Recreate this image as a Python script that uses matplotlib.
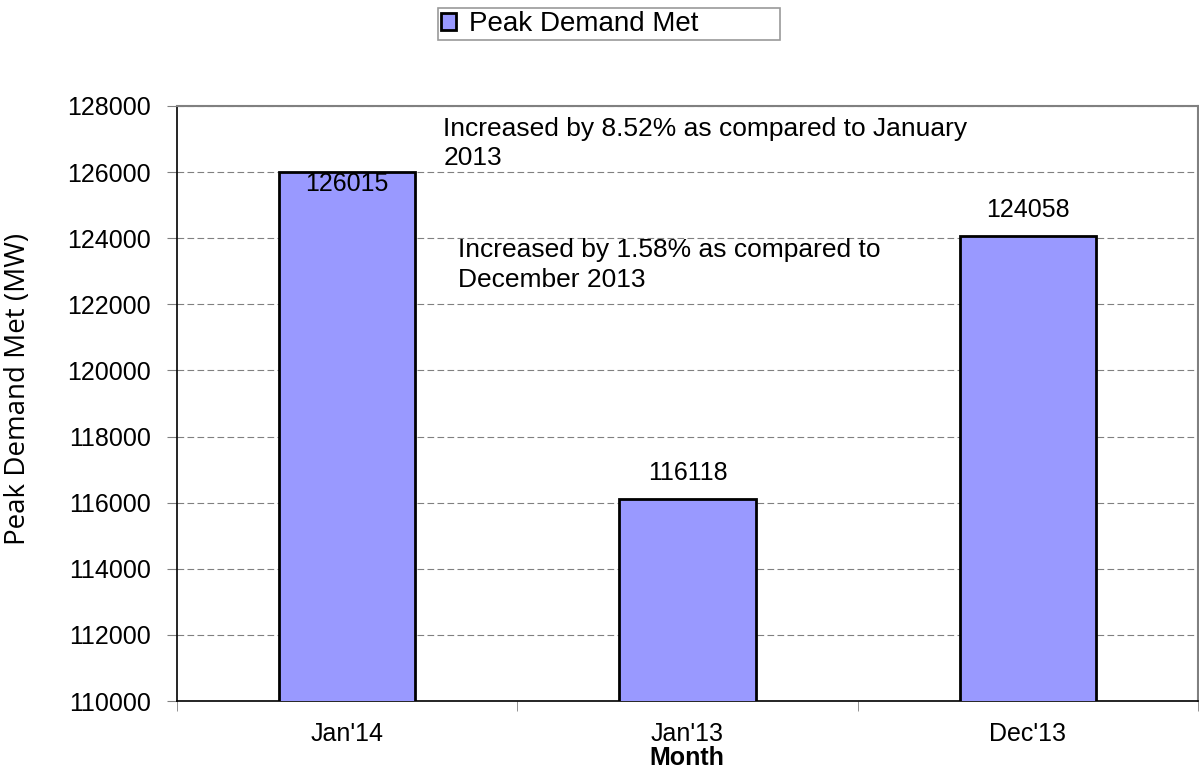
import matplotlib.pyplot as plt
import matplotlib.ticker as ticker

months = ["Jan'14", "Jan'13", "Dec'13"]
peak_met = [126015, 116118, 124058]
note_jan = "Increased by 8.52% as compared to January\n2013"
note_dec = "Increased by 1.58% as compared to\nDecember 2013"

plt.rcParams['font.family'] = ['Liberation Sans', 'DejaVu Sans']

fig = plt.figure(figsize=(11.99, 7.73), dpi=100)
ax = fig.add_axes([0.1476, 0.0931, 0.8516, 0.7698])

x = list(range(len(months)))
bars = ax.bar(x, peak_met, width=0.4, color='#9999ff', edgecolor='black',
              linewidth=2, label='Peak Demand Met', zorder=3)

ax.set_xlim(-0.5, 2.5)
ax.set_ylim(110000, 128000)
ax.yaxis.set_major_locator(ticker.MultipleLocator(2000))
ax.grid(axis='y', linestyle=(0, (6, 3)), color='#808080', linewidth=0.8, zorder=0)

# category labels at centres, tick marks at boundaries
ax.set_xticks(x)
ax.set_xticklabels(months, fontsize=18)
ax.tick_params(axis='x', which='major', length=0, pad=15)
ax.set_xticks([-0.5, 0.5, 1.5, 2.5], minor=True)
ax.tick_params(axis='x', which='minor', length=7, color='#808080', direction='out')
ax.tick_params(axis='y', labelsize=18, length=7, color='#808080', direction='out', pad=12)

for side in ['top', 'right']:
    ax.spines[side].set_color('#808080')
    ax.spines[side].set_linewidth(1.5)
for side in ['left', 'bottom']:
    ax.spines[side].set_color('black')
    ax.spines[side].set_linewidth(1.2)

# value labels
ax.annotate(str(peak_met[0]), (x[0], peak_met[0]), xytext=(0, 0), textcoords='offset points',
            ha='center', va='top', fontsize=18, zorder=4)
for i in [1, 2]:
    ax.annotate(str(peak_met[i]), (x[i], peak_met[i]), xytext=(0, 10), textcoords='offset points',
                ha='center', va='bottom', fontsize=18)

ax.text(0.282, 127680, note_jan, ha='left', va='top', fontsize=19, linespacing=1.3)
ax.text(0.326, 124000, note_dec, ha='left', va='top', fontsize=19, linespacing=1.3)

fig.text(18 / 1199, 1 - 389 / 773, 'Peak Demand Met (MW)', rotation=90, ha='center', va='center',
         fontsize=20, family=['Open Sans', 'DejaVu Sans'])
fig.text(687 / 1199, 1 - 758 / 773, 'Month', ha='center', va='center', fontsize=18, fontweight='bold')

leg = fig.legend(loc='lower left', bbox_to_anchor=(438 / 1199, 1 - 40 / 773, 342 / 1199, 33 / 773),
                 mode='expand', borderaxespad=0, fontsize=20, frameon=True,
                 fancybox=False, edgecolor='#808080', handlelength=0.55, handleheight=0.55,
                 handletextpad=0.45, borderpad=0.1)
leg.get_frame().set_linewidth(1.2)

fig.savefig('out.png', dpi=100)
